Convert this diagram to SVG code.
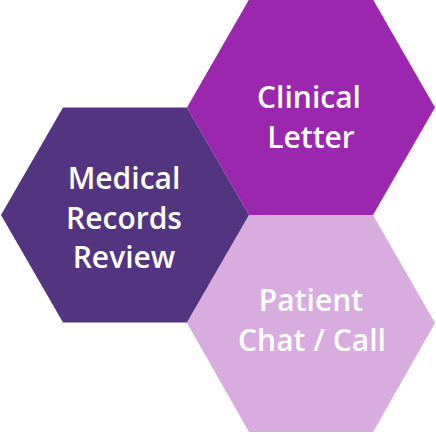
<svg xmlns="http://www.w3.org/2000/svg" width="436" height="434" viewBox="0 0 436 434">
<style>
.t{font-family:"Open Sans","Noto Sans","DejaVu Sans",sans-serif;font-size:30px;font-weight:600;fill:#ffffff;text-anchor:middle}
</style>
<rect width="436" height="434" fill="#ffffff"/>
<g id="connectors"></g>
<g id="clinical-letter">
<polygon points="187,107.5 249,-0.5 373,-0.5 435,107.5 373,215 249,215" fill="#9B27AF"/>
<text class="t" x="309" y="108">Clinical</text>
<text class="t" x="311" y="148">Letter</text>
</g>
<g id="patient-chat-call">
<polygon points="187,323 249,215 373,215 435,323 373,432 249,432" fill="#D9ACDF"/>
<text class="t" x="311" y="311">Patient</text>
<text class="t" x="312" y="351">Chat / Call</text>
</g>
<g id="medical-records-review">
<polygon points="1,215 63,107.5 187,107.5 249,215 187,322.5 63,322.5" fill="#533480"/>
<text class="t" x="124" y="189">Medical</text>
<text class="t" x="124" y="229">Records</text>
<text class="t" x="124" y="268">Review</text>
</g>
</svg>
